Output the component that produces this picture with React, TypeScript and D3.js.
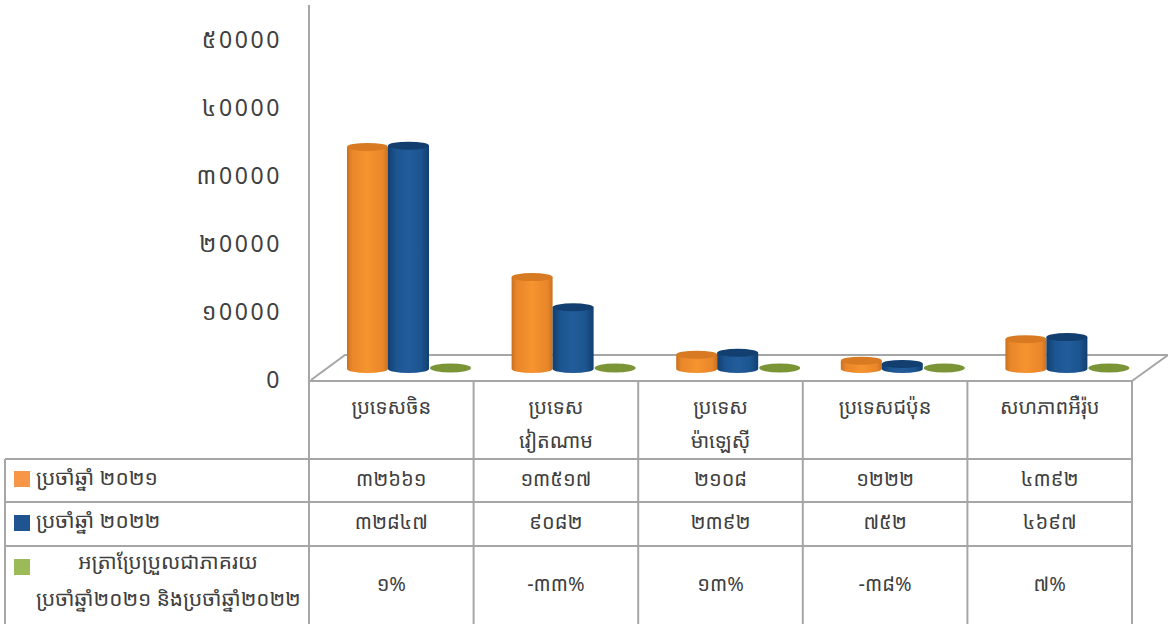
import React from "react";
import * as d3 from "d3";

const categories = ["ប្រទេសចិន", "ប្រទេស\nវៀតណាម", "ប្រទេស\nម៉ាឡេស៊ី", "ប្រទេសជប៉ុន", "សហភាពអឺរ៉ុប"];
const values2021 = [32661, 13517, 2108, 1222, 4392];
const values2022 = [32847, 9082, 2392, 752, 4697];
const changeRate = [1, -33, 13, -38, 7];
const label2021 = ["៣២៦៦១", "១៣៥១៧", "២១០៨", "១២២២", "៤៣៩២"];
const label2022 = ["៣២៨៤៧", "៩០៨២", "២៣៩២", "៧៥២", "៤៦៩៧"];
const labelRate = ["១%", "-៣៣%", "១៣%", "-៣៨%", "៧%"];
const yTicks = [0, 10000, 20000, 30000, 40000, 50000];
const yTickLabels = ["0", "១0000", "២0000", "៣0000", "៤0000", "៥0000"];
const legend2021 = "ប្រចាំឆ្នាំ ២០២១";
const legend2022 = "ប្រចាំឆ្នាំ ២០២២";
const legendRate = ["អត្រាប្រែប្រួលជាភាគរយ", "ប្រចាំឆ្នាំ២០២១ និងប្រចាំឆ្នាំ២០២២"];

const FONT = "'Noto Sans Khmer','Khmer OS','DejaVu Sans','Noto Sans',sans-serif";
const GRID = "#a6a6a6";
const TEXT = "#404040";

const W = 1168, H = 624;
const xCat = d3.scaleBand<number>().domain(d3.range(5)).range([309, 1132]);
const y = d3.scaleLinear().domain([0, 50000]).range([369, 29]);
const yAxisLabel = d3.scaleLinear().domain([0, 50000]).range([379, 39]);
const rows = [381, 459, 502, 546, 624];

function Cyl({ x, w, top, base, id, dark }: any) {
  const ry = 4;
  return (
    <g>
      <path d={`M${x},${top} L${x},${base} A${w / 2},${ry} 0 0 0 ${x + w},${base} L${x + w},${top} Z`} fill={`url(#${id})`} />
      <ellipse cx={x + w / 2} cy={top} rx={w / 2} ry={ry} fill={dark} />
    </g>
  );
}

export default function App() {
  const bw = 41;
  return (
    <svg width={W} height={H} style={{ position: "fixed", left: 0, top: 0, background: "#fff" }} fontFamily={FONT}>
      <defs>
        <linearGradient id="o">
          <stop offset="0" stopColor="#c9711f" />
          <stop offset="0.12" stopColor="#e8862a" />
          <stop offset="0.5" stopColor="#f6942f" />
          <stop offset="0.88" stopColor="#e8862a" />
          <stop offset="1" stopColor="#c9711f" />
        </linearGradient>
        <linearGradient id="b">
          <stop offset="0" stopColor="#123f70" />
          <stop offset="0.2" stopColor="#1c5590" />
          <stop offset="0.5" stopColor="#225c9a" />
          <stop offset="0.8" stopColor="#1c5590" />
          <stop offset="1" stopColor="#123f70" />
        </linearGradient>
      </defs>
      {/* floor and walls */}
      <path d="M311,380 L345,355 L1168,355 L1132,381" fill="none" stroke={GRID} strokeWidth={2} />
      <line x1={309} x2={309} y1={5} y2={381} stroke={GRID} strokeWidth={2} />
      {/* table */}
      <g stroke={GRID} strokeWidth={2}>
        <line x1={309} x2={1132} y1={rows[0]} y2={rows[0]} />
        {rows.slice(1, 4).map((r) => <line key={r} x1={5} x2={1132} y1={r} y2={r} />)}
        <line x1={5} x2={5} y1={rows[1]} y2={rows[4]} />
        {[0, 1, 2, 3, 4].map((i) => <line key={i} x1={xCat(i)!} x2={xCat(i)!} y1={rows[0]} y2={rows[4]} />)}
        <line x1={1132} x2={1132} y1={rows[0]} y2={rows[4]} />
      </g>
      {/* bars */}
      {categories.map((_, i) => {
        const x0 = xCat(i)! + 38;
        return (
          <g key={i}>
            <Cyl x={x0} w={bw} top={y(values2021[i])} base={y(0)} id="o" dark="#d87a22" />
            <Cyl x={x0 + bw} w={bw} top={y(values2022[i])} base={y(0)} id="b" dark="#123f70" />
            <ellipse cx={x0 + bw * 2.5 + 1} cy={y(changeRate[i] / 100) - 1} rx={bw / 2} ry={4.5} fill="#7a9436" />
          </g>
        );
      })}
      {/* y axis labels */}
      {yTicks.map((t, i) => (
        <text key={t} x={282} y={yAxisLabel(t)} textAnchor="end" dominantBaseline="central" fontSize={23} letterSpacing={2.6} fill={TEXT}>{yTickLabels[i]}</text>
      ))}
      {/* category labels */}
      {categories.map((c, i) => c.split("\n").map((l, j) => (
        <text key={j} x={xCat(i)! + xCat.bandwidth() / 2} y={406 + j * 34} textAnchor="middle" dominantBaseline="central" fontSize={20} fill={TEXT}>{l}</text>
      )))}
      {/* data rows */}
      {[label2021, label2022, labelRate].map((row, r) => row.map((l, i) => (
        <text key={i} x={xCat(i)! + xCat.bandwidth() / 2} y={[478, 521, 583][r]} textAnchor="middle" dominantBaseline="central" fontSize={20} fill={TEXT}>{l}</text>
      )))}
      {/* legend */}
      <rect x={14} y={471} width={16} height={16} fill="#f79646" />
      <rect x={14} y={515} width={16} height={16} fill="#1f5490" />
      <rect x={14} y={559} width={16} height={16} fill="#9bbb59" />
      <text x={36} y={477} dominantBaseline="central" fontSize={21} fill={TEXT}>{legend2021}</text>
      <text x={36} y={520} dominantBaseline="central" fontSize={21} fill={TEXT}>{legend2022}</text>
      <text x={168} y={561} textAnchor="middle" dominantBaseline="central" fontSize={20.8} fill={TEXT}>{legendRate[0]}</text>
      <text x={36} y={598} dominantBaseline="central" fontSize={20.8} fill={TEXT}>{legendRate[1]}</text>
    </svg>
  );
}
